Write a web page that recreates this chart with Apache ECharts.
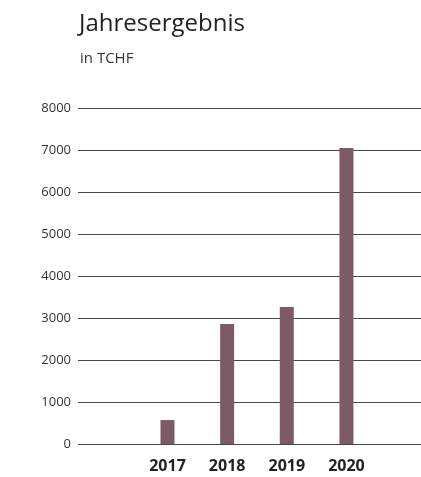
<!DOCTYPE html>
<html><head><meta charset="utf-8">
<script src="https://cdn.jsdelivr.net/npm/echarts@6/dist/echarts.min.js"></script>
<style>html,body{margin:0;padding:0;background:#fff}#c{width:421px;height:477px}</style>
</head><body><div id="c"></div>
<script>
const years = [2017, 2018, 2019, 2020];
const values = [570, 2860, 3260, 7050];
const yTicks = [0, 1000, 2000, 3000, 4000, 5000, 6000, 7000, 8000];

const chart = echarts.init(document.getElementById('c'));
chart.setOption({
  backgroundColor: '#fff',
  animation: false,
  title: [
    {text: 'Jahresergebnis', left: 74, top: 7, textStyle: {fontFamily: 'Open Sans', fontWeight: 'normal', fontSize: 24, color: '#222'}},
    {text: 'in TCHF', left: 75, top: 46, textStyle: {fontFamily: 'Open Sans', fontWeight: 'normal', fontSize: 15, color: '#333'}}
  ],
  grid: {left: 78, right: 0, top: 108, bottom: 33},
  xAxis: {
    type: 'value', min: 2015.5, max: 2021.25, interval: 0.5,
    splitLine: {show: false}, axisLine: {show: false}, axisTick: {show: false},
    axisLabel: {
      margin: 14, fontFamily: 'Open Sans', fontWeight: 'bold', fontSize: 16, color: '#222',
      showMinLabel: false, showMaxLabel: false,
      formatter: v => years.indexOf(v) >= 0 ? String(v) : ''
    }
  },
  yAxis: {
    type: 'value', min: yTicks[0], max: yTicks[yTicks.length - 1], interval: 1000,
    axisLine: {show: false}, axisTick: {show: false},
    axisLabel: {margin: 7, fontFamily: 'Open Sans', fontSize: 13, color: '#333', formatter: v => String(v)},
    splitLine: {lineStyle: {color: '#474747', width: 1}}
  },
  series: [{
    type: 'bar', barWidth: 14,
    itemStyle: {color: '#7c5a67'},
    data: years.map((y, i) => [y, values[i]])
  }]
});
</script></body></html>
